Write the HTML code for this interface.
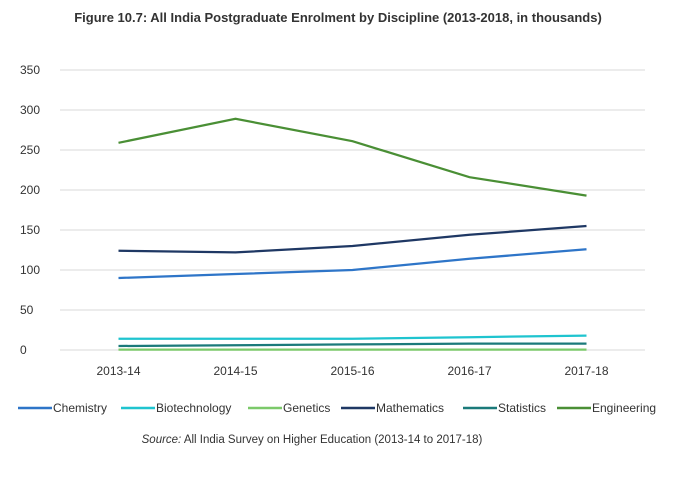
<!DOCTYPE html>
<html><head><meta charset="utf-8"><style>
body{margin:0;background:#fff;width:676px;height:482px;overflow:hidden;font-family:"Liberation Sans",sans-serif}
svg text{font-family:"Liberation Sans",sans-serif}
</style></head><body>
<svg width="676" height="482">
<text x="338" y="22" text-anchor="middle" font-size="13" font-weight="bold" fill="#333">Figure 10.7: All India Postgraduate Enrolment by Discipline (2013-2018, in thousands)</text>
<g id="grid"></g><g id="lines"></g><g id="legend"></g>
<text x="312" y="443" text-anchor="middle" font-size="11.5" fill="#333"><tspan font-style="italic">Source:</tspan> All India Survey on Higher Education (2013-14 to 2017-18)</text>
</svg>
<script>
const categories=["2013-14","2014-15","2015-16","2016-17","2017-18"];
const yTicks=[0,50,100,150,200,250,300,350];
const seriesNames=["Chemistry","Biotechnology","Genetics","Mathematics","Statistics","Engineering"];
const seriesColors=["#2e75c8","#1fc4cf","#7cc96a","#1f3864","#1b7a7a","#4a8f35"];
const chemistry=[90,95,100,114,126];
const biotechnology=[14,14,14,16,18];
const genetics=[0.5,0.5,0.5,0.5,0.5];
const mathematics=[124,122,130,144,155];
const statistics=[5,6,7,8,8];
const engineering=[259,289,261,216,193];
const seriesValues=[chemistry,biotechnology,genetics,mathematics,statistics,engineering];
const NS="http://www.w3.org/2000/svg";
const x0=60,x1=645,yb=350,yt=70;
const xs=i=>x0+(x1-x0)/categories.length*(i+0.5);
const ys=v=>yb-(v/350)*(yb-yt);
function mk(tag,attrs,parent){const e=document.createElementNS(NS,tag);for(const k in attrs)e.setAttribute(k,attrs[k]);parent.appendChild(e);return e;}
const grid=document.getElementById('grid');
yTicks.forEach(t=>{
 const l=mk('line',{x1:x0,x2:x1,y1:ys(t),y2:ys(t),stroke:'#d9d9d9','stroke-width':1},grid);
 
 
 const tx=mk('text',{x:20,y:ys(t)+4,'font-size':12,fill:'#333'},grid);
 tx.textContent=t;
 
 
});
categories.forEach((c,i)=>{
 const tx=mk('text',{x:xs(i),y:375,'font-size':12,fill:'#333','text-anchor':'middle'},grid);
 tx.textContent=c;
 
 
});
const lines=document.getElementById('lines');
seriesValues.forEach((vals,s)=>{
 const d=vals.map((v,i)=>(i?'L':'M')+xs(i)+','+ys(v)).join(' ');
 const p=mk('path',{d:d,fill:'none',stroke:seriesColors[s],'stroke-width':2.25},lines);
 
 
});
const lg=document.getElementById('legend');
const lx=[18,121,248,341,463,557];
seriesNames.forEach((n,s)=>{
 const g=mk('g',{},lg);
 
 
 mk('line',{x1:lx[s],x2:lx[s]+34,y1:408,y2:408,stroke:seriesColors[s],'stroke-width':2.5},g);
 const t=mk('text',{x:lx[s]+35,y:412,'font-size':12,fill:'#333'},g);
 t.textContent=n;
});
</script>
</body></html>
